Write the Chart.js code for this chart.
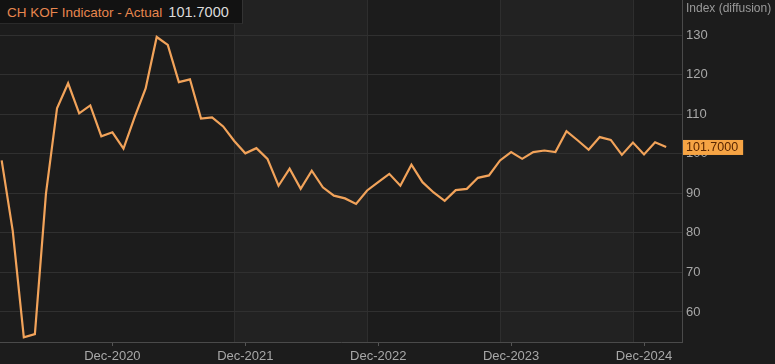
<!DOCTYPE html>
<html>
<head>
<meta charset="utf-8">
<script src="https://cdn.jsdelivr.net/npm/chart.js@4"></script>
<style>
  html, body { margin: 0; padding: 0; background: #1c1c1c; }
  #wrap { position: relative; width: 775px; height: 364px; }
  #legend {
    position: absolute; left: 0; top: 0; height: 24px; width: 243px;
    background: #121212; border-right: 1px solid #333; border-bottom: 1px solid #2a2a2a;
    font: 13.5px "Liberation Sans", Arial, sans-serif; line-height: 24px; white-space: nowrap;
    padding-left: 7px; box-sizing: border-box;
  }
  #legend .name { color: #e8874f; }
  #legend .val { color: #dcdcdc; margin-left: 6px; font-size: 14.5px; }
  #unit {
    position: absolute; left: 686px; top: 1px;
    font: 12px "Liberation Sans", Arial, sans-serif; color: #9a9a9a; white-space: nowrap;
  }
</style>
</head>
<body>
<div id="wrap">
  <canvas id="chart" width="775" height="364"></canvas>
  <div id="legend"><span class="name">CH KOF Indicator - Actual</span><span class="val">101.7000</span></div>
  <div id="unit">Index (diffusion)</div>
</div>
<script>
// monthly readings, Feb-2020 .. Feb-2025
const kofValues = [
  98.3, 80.5, 53.6, 54.4, 89.9, 111.5, 117.8, 110.2, 112.2, 104.4, 105.4,
  101.3, 109.2, 116.5, 129.5, 127.5, 118.1, 118.8, 108.9, 109.2, 106.9, 103.2,
  100.1, 101.4, 98.7, 91.9, 96.2, 91.1, 95.7, 91.5, 89.4, 88.7, 87.3,
  90.7, 92.8, 94.9, 91.9, 97.2, 92.8, 90.2, 88.1, 90.8, 91.1, 93.9,
  94.5, 98.3, 100.4, 98.7, 100.4, 100.8, 100.4, 105.7, 103.4, 101.0, 104.2,
  103.5, 99.7, 102.8, 99.8, 102.9, 101.7
];

const monthNames = ['Jan', 'Feb', 'Mar', 'Apr', 'May', 'Jun', 'Jul', 'Aug', 'Sep', 'Oct', 'Nov', 'Dec'];
const months = kofValues.map((v, i) => {
  const m = 1 + i; // Feb-2020 is index 0
  return monthNames[m % 12] + '-' + (2020 + Math.floor(m / 12));
});

const xTickLabels = ['Dec-2020', 'Dec-2021', 'Dec-2022', 'Dec-2023', 'Dec-2024'];
const yTicks = [60, 70, 80, 90, 100, 110, 120, 130];
// shaded period boundaries (month labels)
const bandBreaks = ['Nov-2021', 'Nov-2022', 'Nov-2023', 'Nov-2024'];

const lastValue = kofValues[kofValues.length - 1];

const colors = {
  bg: '#1c1c1c',
  band: '#222222',
  bandLine: '#2e2e2e',
  grid: '#303030',
  axis: '#4a4a4a',
  line: '#f2a35a',
  text: '#a8a8a8',
  tag: '#f6a444',
  tagText: '#5a2600'
};

const bandsPlugin = {
  id: 'bands',
  beforeDraw(chart) {
    const { ctx, chartArea: a, scales: { x } } = chart;
    ctx.save();
    ctx.fillStyle = colors.bg;
    ctx.fillRect(a.left, a.top, a.right - a.left, a.bottom - a.top);
    const edges = bandBreaks.map(l => x.getPixelForValue(months.indexOf(l)));
    ctx.fillStyle = colors.band;
    for (let i = 0; i + 1 < edges.length; i += 2) {
      ctx.fillRect(edges[i], a.top, edges[i + 1] - edges[i], a.bottom - a.top);
    }
    ctx.strokeStyle = colors.bandLine;
    ctx.lineWidth = 1;
    edges.forEach(px => {
      ctx.beginPath();
      ctx.moveTo(Math.round(px) + 0.5, a.top);
      ctx.lineTo(Math.round(px) + 0.5, a.bottom);
      ctx.stroke();
    });
    ctx.restore();
  }
};

const tagPlugin = {
  id: 'lastTag',
  afterDraw(chart) {
    const { ctx, chartArea: a, scales: { y } } = chart;
    const py = y.getPixelForValue(lastValue);
    const text = lastValue.toFixed(4);
    ctx.save();
    ctx.font = '12.5px "Liberation Sans", Arial, sans-serif';
    const w = ctx.measureText(text).width + 8;
    ctx.fillStyle = colors.tag;
    ctx.fillRect(a.right + 1, py - 7, w, 15);
    ctx.fillStyle = colors.tagText;
    ctx.textBaseline = 'middle';
    ctx.fillText(text, a.right + 4, py + 1);
    ctx.restore();
  }
};

new Chart(document.getElementById('chart'), {
  type: 'line',
  data: {
    datasets: [{
      label: 'CH KOF Indicator - Actual',
      data: kofValues.map((v, i) => ({ x: i, y: v })),
      borderColor: colors.line,
      borderWidth: 2.2,
      pointRadius: 0,
      tension: 0,
      fill: false
    }]
  },
  options: {
    responsive: false,
    animation: false,
    layout: { padding: 0 },
    plugins: {
      legend: { display: false },
      tooltip: { enabled: false }
    },
    scales: {
      x: {
        type: 'linear',
        min: -0.15,
        max: 61.43,
        afterBuildTicks: (scale) => {
          scale.ticks = xTickLabels.map(l => ({ value: months.indexOf(l) }));
        },
        afterFit: (scale) => {
          scale.height = 22;
          scale.paddingLeft = 0;
          scale.paddingRight = 0;
        },
        border: { color: colors.axis },
        grid: {
          drawOnChartArea: false,
          drawTicks: true,
          tickLength: 4,
          color: '#555'
        },
        ticks: {
          color: colors.text,
          maxRotation: 0,
          autoSkip: false,
          padding: 3,
          font: { family: '"Liberation Sans", Arial, sans-serif', size: 13 },
          callback: (value) => months[value]
        }
      },
      y: {
        position: 'right',
        min: 52.4,
        max: 138.85,
        afterBuildTicks: (scale) => {
          scale.ticks = yTicks.map(v => ({ value: v }));
        },
        afterFit: (scale) => {
          scale.width = 93;
          scale.paddingTop = 0;
          scale.paddingBottom = 0;
        },
        border: { color: colors.axis },
        grid: {
          color: colors.grid,
          drawTicks: false
        },
        ticks: {
          color: colors.text,
          padding: 4,
          font: { family: '"Liberation Sans", Arial, sans-serif', size: 13 }
        }
      }
    }
  },
  plugins: [bandsPlugin, tagPlugin]
});
</script>
</body>
</html>
